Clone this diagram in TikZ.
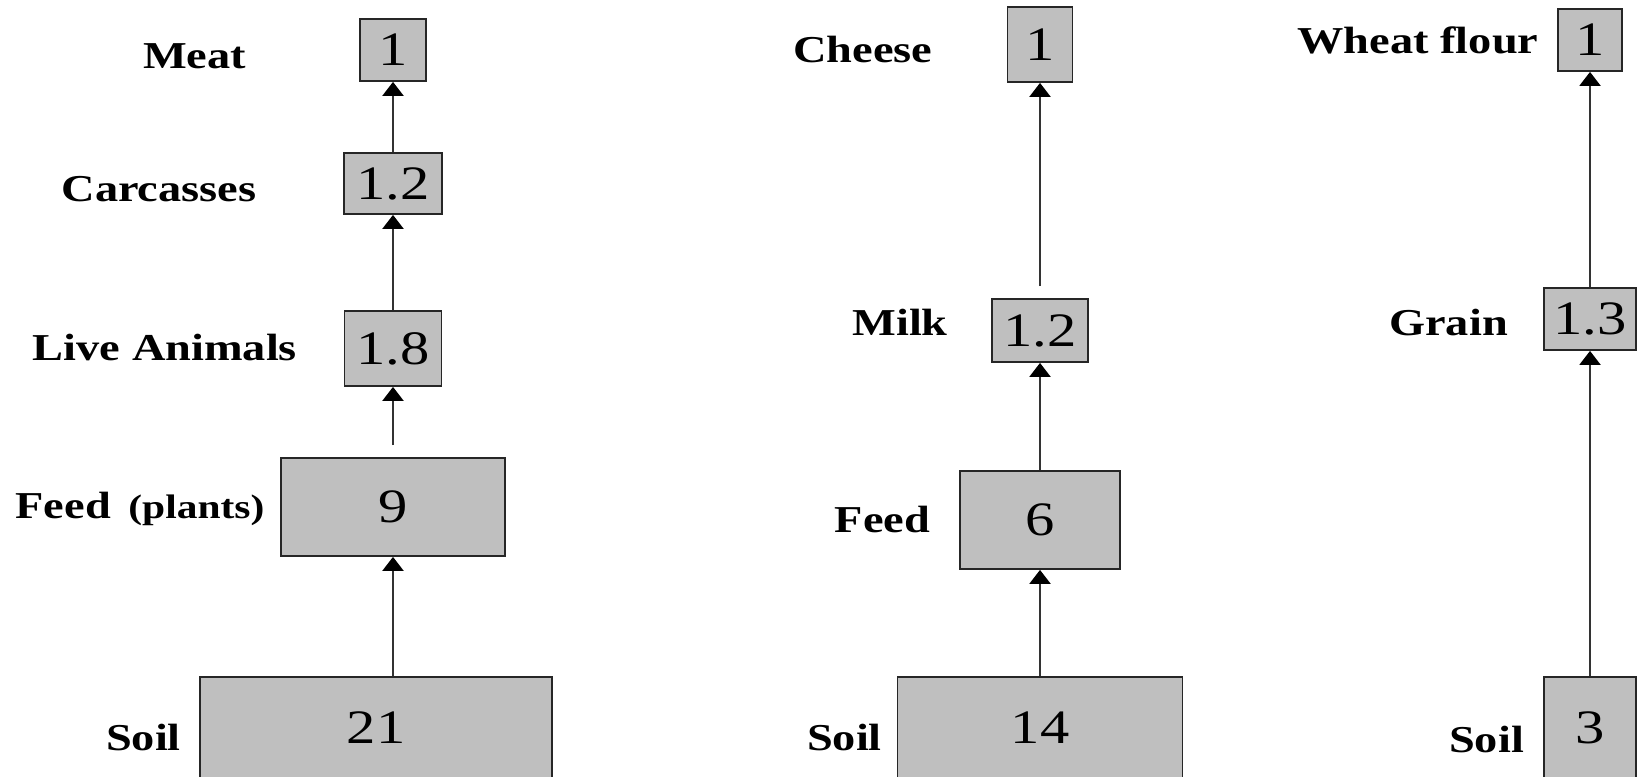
\documentclass[tikz,border=0pt]{standalone}
\usepackage{fontspec}
\setmainfont{Liberation Serif}[FakeStretch=1.22]
\usetikzlibrary{arrows.meta}
\tikzset{
  valbox/.style={draw=black!85, line width=1.8pt, fill=black!25, inner sep=0pt,
    font=\fontsize{48}{50}\selectfont},
  lbl/.style={anchor=base, inner sep=0pt, font=\bfseries\fontsize{38}{40}\selectfont},
  flow/.style={draw=black!80, line width=2.2pt,
    -{Triangle[width=21pt,length=14pt,color=black]}},
}
\begin{document}
\begin{tikzpicture}[x=1pt,y=-1pt]
\clip (0,0) rectangle (1637,776);
\fill[white] (0,0) rectangle (1637,776);
% column 1 : meat
\node[valbox, minimum width=66pt, minimum height=62pt] (meat) at (393,50) {1};
\node[valbox, minimum width=98pt, minimum height=61pt] (carc) at (393,183.5) {1.2};
\node[valbox, minimum width=97pt, minimum height=75pt] (live) at (393,348.5) {1.8};
\node[valbox, minimum width=224pt, minimum height=98pt] (feedA) at (393,507) {9};
\node[valbox, minimum width=352pt, minimum height=102pt] (soilA) at (376,728) {21};
\node[lbl] (lmeat) at (194.5,68) {Meat};
\node[lbl] (lcarc) at (159,201) {Carcasses};
\node[lbl] (llive) at (165,360) {Live Animals};
\node[lbl] (lfeedA) at (140,518) {Feed\hspace{6pt} {\fontsize{34}{36}\selectfont (plants)}};
\node[lbl] (lsoilA) at (143.5,750) {Soil};
\draw[flow] (carc) -- (meat);
\draw[flow] (live) -- (carc);
\draw[flow, shorten <=12pt] (feedA) -- (live);
\draw[flow] (feedA |- soilA.north) -- (feedA.south);
% column 2 : cheese
\node[valbox, minimum width=65pt, minimum height=75pt] (cheese) at (1040,44.5) {1};
\node[valbox, minimum width=96pt, minimum height=63pt] (milk) at (1040,330.5) {1.2};
\node[valbox, minimum width=160pt, minimum height=98pt] (feedB) at (1040,520) {6};
\node[valbox, minimum width=285pt, minimum height=102pt] (soilB) at (1040,728) {14};
\node[lbl] (lcheese) at (863,63) {Cheese};
\node[lbl] (lmilk) at (900,335) {Milk};
\node[lbl] (lfeedB) at (882.5,532) {Feed};
\node[lbl] (lsoilB) at (844.5,750) {Soil};
\draw[flow, shorten <=12pt] (milk) -- (cheese);
\draw[flow] (feedB) -- (milk);
\draw[flow] (soilB) -- (feedB);
% column 3 : wheat flour
\node[valbox, minimum width=64pt, minimum height=62pt] (flour) at (1590,40) {1};
\node[valbox, minimum width=92pt, minimum height=62pt] (grain) at (1590,319) {1.3};
\node[valbox, minimum width=92pt, minimum height=102pt] (soilC) at (1590,728) {3};
\node[lbl] (lflour) at (1418,53) {Wheat flour};
\node[lbl] (lgrain) at (1448.5,335) {Grain};
\node[lbl] (lsoilC) at (1486.5,752) {Soil};
\draw[flow] (grain) -- (flour);
\draw[flow] (soilC) -- (grain);
\end{tikzpicture}
\end{document}
